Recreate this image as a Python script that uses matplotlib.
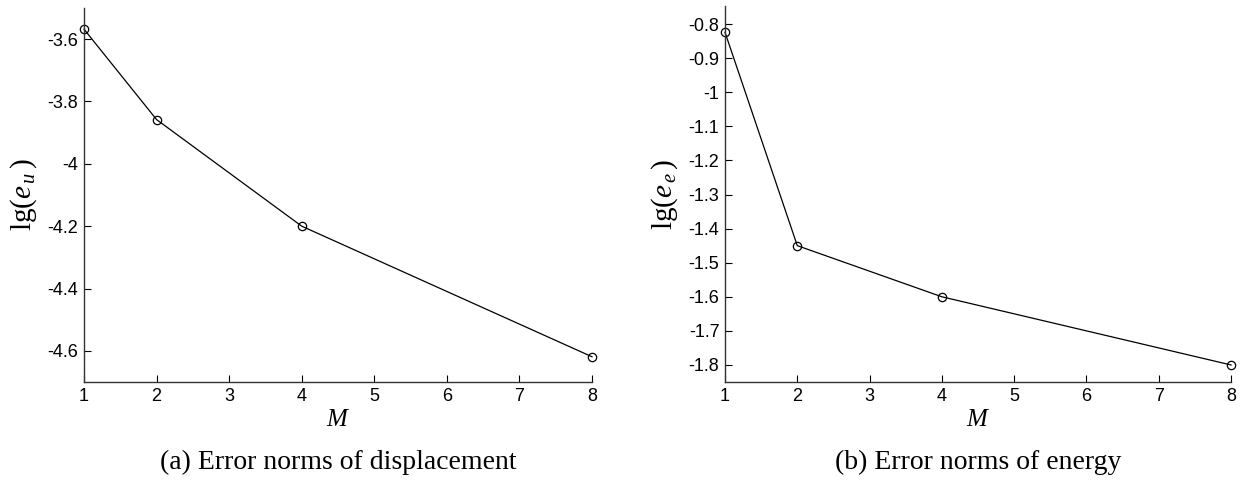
import numpy as np
import matplotlib.pyplot as plt

plt.rcParams['font.family'] = ['Liberation Sans', 'DejaVu Sans']
plt.rcParams['mathtext.fontset'] = 'custom'
plt.rcParams['mathtext.rm'] = 'Liberation Serif'
plt.rcParams['mathtext.it'] = 'Liberation Serif:italic'

# data
M = [1, 2, 4, 8]
lg_eu = [-3.568, -3.858, -4.200, -4.619]
lg_ee = [-0.824, -1.450, -1.600, -1.800]

xticks = [1, 2, 3, 4, 5, 6, 7, 8]
yticks_u = [-4.6, -4.4, -4.2, -4.0, -3.8, -3.6]
yticks_e = [-1.8, -1.7, -1.6, -1.5, -1.4, -1.3, -1.2, -1.1, -1.0, -0.9, -0.8]
ylabels_u = ['-4.6', '-4.4', '-4.2', '-4', '-3.8', '-3.6']
ylabels_e = ['-1.8', '-1.7', '-1.6', '-1.5', '-1.4', '-1.3', '-1.2', '-1.1', '-1', '-0.9', '-0.8']

captions = ['(a) Error norms of displacement', '(b) Error norms of energy']
ylabs = [r'$\mathrm{lg}(e_{\,u}\,)$', r'$\mathrm{lg}(e_{\,e}\,)$']

fig = plt.figure(figsize=(12.45, 4.84), dpi=100)
W, H = 1245, 484
ax1 = fig.add_axes([84 / W, 1 - 382 / H, (592 - 84) / W, (382 - 8) / H])
ax2 = fig.add_axes([725 / W, 1 - 382 / H, (1231 - 725) / W, (382 - 6) / H])


def style(ax, y, yticks, ylabels, ylim, ylab, caption):
    ax.plot(M, y, color='black', linewidth=0.9, marker='o', markersize=6,
            markerfacecolor='none', markeredgewidth=0.9, clip_on=False)
    ax.set_xlim(1, 8)
    ax.set_ylim(*ylim)
    ax.set_xticks(xticks)
    ax.set_yticks(yticks)
    ax.set_yticklabels(ylabels)
    for s in ['top', 'right']:
        ax.spines[s].set_visible(False)
    for s in ['left', 'bottom']:
        ax.spines[s].set_linewidth(1.0)
        ax.spines[s].set_color('#333333')
    ax.tick_params(direction='in', length=5, width=0.8, labelsize=13, pad=4)
    ax.set_xlabel(r'$M$', fontsize=18, labelpad=2)
    ax.set_ylabel(ylab, fontsize=21, labelpad=6)
    ax.text(0.5, -0.215, caption, transform=ax.transAxes, ha='center', va='center',
            fontsize=20, family='Liberation Serif')


style(ax1, lg_eu, yticks_u, ylabels_u, (-4.7, -3.5), ylabs[0], captions[0])
style(ax2, lg_ee, yticks_e, ylabels_e, (-1.85, -0.747), ylabs[1], captions[1])

fig.savefig('out.png', dpi=100)
